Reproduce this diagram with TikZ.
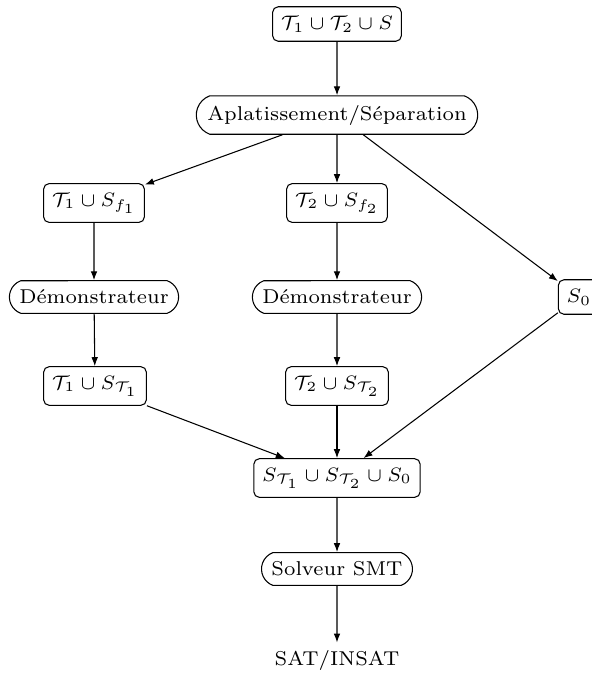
\documentclass[tikz,border=0pt]{standalone}
\usetikzlibrary{shapes.misc,arrows.meta}
\begin{document}
\begin{tikzpicture}[x=0.359pt,y=-0.359pt,
  font=\fontsize{7.2}{8.6}\selectfont,
  box/.style={draw,rounded corners=2pt,inner xsep=3pt,inner ysep=3.3pt},
  proc/.style={draw,rounded rectangle,rounded rectangle arc length=140,inner xsep=3pt,inner ysep=3.3pt},
  plain/.style={inner sep=2.5pt},
  arr/.style={-{Latex[length=3.2pt,width=2.4pt]}},
  line width=0.38pt]
\useasboundingbox (0,0) rectangle (592,675);
\node[box] (top) at (337,24) {$\mathcal{T}_1\cup\mathcal{T}_2\cup S$};
\node[proc] (apl) at (337,115) {Aplatissement/Séparation};
\node[box] (t1f) at (94,203) {$\mathcal{T}_1\cup S_{f_1}$};
\node[box] (t2f) at (337,203) {$\mathcal{T}_2\cup S_{f_2}$};
\node[box] (s0) at (579,297) {$S_0$};
\node[proc] (d1) at (94,297) {Démonstrateur};
\node[proc] (d2) at (337,297) {Démonstrateur};
\node[box] (t1t) at (95,386) {$\mathcal{T}_1\cup S_{\mathcal{T}_1}$};
\node[box] (t2t) at (337,386) {$\mathcal{T}_2\cup S_{\mathcal{T}_2}$};
\node[box] (all) at (337,478) {$S_{\mathcal{T}_1}\cup S_{\mathcal{T}_2}\cup S_0$};
\node[proc] (smt) at (337,569) {Solveur SMT};
\node[plain] (res) at (337,660) {SAT/INSAT};
\draw[arr] (top) -- (apl);
\draw[arr] (apl) -- (t1f);
\draw[arr] (apl) -- (t2f);
\draw[arr] (apl) -- (s0);
\draw[arr] (t1f) -- (d1);
\draw[arr] (t2f) -- (d2);
\draw[arr] (d1) -- (t1t);
\draw[arr] (d2) -- (t2t);
\draw[arr] (t1t) -- (all);
\draw[arr] (t2t) -- (all);
\draw[arr] (s0) -- (all);
\draw[arr] (all) -- (smt);
\draw[arr] (smt) -- (res);
\end{tikzpicture}
\end{document}
